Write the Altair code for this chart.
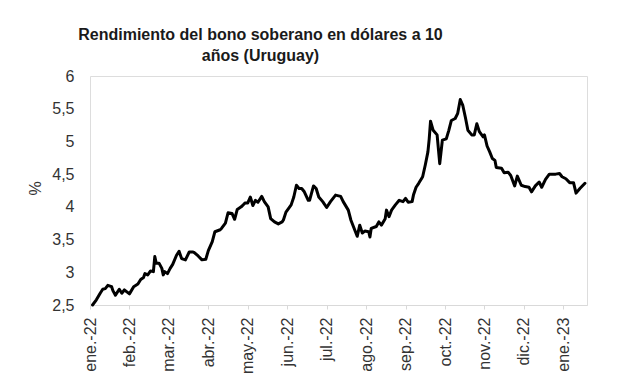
import json
import calendar
import altair as alt
import pandas as pd

title_lines = ["Rendimiento del bono soberano en dólares a 10", "años (Uruguay)"]
y_title = "%"
tick_labels = ["ene.-22", "feb.-22", "mar.-22", "abr.-22", "may.-22", "jun.-22",
               "jul.-22", "ago.-22", "sep.-22", "oct.-22", "nov.-22", "dic.-22", "ene.-23"]
y_ticks = [2.5, 3, 3.5, 4, 4.5, 5, 5.5, 6]

dates = [
    "2022-01-03", "2022-01-06", "2022-01-09", "2022-01-11", "2022-01-13", "2022-01-15",
    "2022-01-18", "2022-01-19", "2022-01-21", "2022-01-24", "2022-01-26", "2022-01-28",
    "2022-01-30", "2022-02-01", "2022-02-04", "2022-02-07", "2022-02-09", "2022-02-11",
    "2022-02-12", "2022-02-14", "2022-02-16", "2022-02-18", "2022-02-19", "2022-02-20",
    "2022-02-22", "2022-02-24", "2022-02-25", "2022-02-26", "2022-02-28", "2022-03-02",
    "2022-03-04", "2022-03-07", "2022-03-09", "2022-03-11", "2022-03-14", "2022-03-17",
    "2022-03-20", "2022-03-21", "2022-03-24", "2022-03-27", "2022-03-30", "2022-04-01",
    "2022-04-04", "2022-04-06", "2022-04-10", "2022-04-11", "2022-04-14", "2022-04-16",
    "2022-04-19", "2022-04-21", "2022-04-23", "2022-04-26", "2022-04-28", "2022-04-29",
    "2022-05-01", "2022-05-03", "2022-05-05", "2022-05-07", "2022-05-09", "2022-05-12",
    "2022-05-14", "2022-05-17", "2022-05-19", "2022-05-22", "2022-05-25", "2022-05-28",
    "2022-05-29", "2022-05-31", "2022-06-04", "2022-06-06", "2022-06-08", "2022-06-10",
    "2022-06-12", "2022-06-14", "2022-06-17", "2022-06-18", "2022-06-21", "2022-06-23",
    "2022-06-25", "2022-06-28", "2022-07-01", "2022-07-04", "2022-07-08", "2022-07-12",
    "2022-07-14", "2022-07-18", "2022-07-20", "2022-07-23", "2022-07-25", "2022-07-27",
    "2022-07-29", "2022-07-31", "2022-08-03", "2022-08-04", "2022-08-05", "2022-08-09",
    "2022-08-11", "2022-08-13", "2022-08-16", "2022-08-17", "2022-08-19", "2022-08-21",
    "2022-08-24", "2022-08-27", "2022-08-30", "2022-09-01", "2022-09-03", "2022-09-06",
    "2022-09-07", "2022-09-09", "2022-09-11", "2022-09-14", "2022-09-16", "2022-09-18",
    "2022-09-19", "2022-09-20", "2022-09-22", "2022-09-25", "2022-09-27", "2022-09-29",
    "2022-10-02", "2022-10-04", "2022-10-06", "2022-10-09", "2022-10-11", "2022-10-13",
    "2022-10-15", "2022-10-17", "2022-10-19", "2022-10-22", "2022-10-24", "2022-10-26",
    "2022-10-28", "2022-10-31", "2022-11-01", "2022-11-03", "2022-11-05", "2022-11-07",
    "2022-11-09", "2022-11-10", "2022-11-14", "2022-11-16", "2022-11-19", "2022-11-21",
    "2022-11-24", "2022-11-26", "2022-11-29", "2022-12-02", "2022-12-05", "2022-12-07",
    "2022-12-10", "2022-12-13", "2022-12-15", "2022-12-18", "2022-12-21", "2022-12-26",
    "2022-12-29", "2022-12-31", "2023-01-03", "2023-01-06", "2023-01-09", "2023-01-11",
    "2023-01-14", "2023-01-18",
]

values = [
    2.50, 2.58, 2.68, 2.74, 2.75, 2.80,
    2.78, 2.72, 2.65, 2.74, 2.68, 2.73,
    2.70, 2.67, 2.78, 2.82, 2.89, 2.92,
    2.98, 2.96, 3.02, 3.01, 3.24, 3.14,
    3.14, 3.06, 2.96, 3.01, 2.98, 3.06,
    3.12, 3.26, 3.32, 3.21, 3.19, 3.31,
    3.31, 3.30, 3.25, 3.19, 3.20, 3.33,
    3.47, 3.62, 3.65, 3.67, 3.75, 3.91,
    3.90, 3.81, 3.96, 4.00, 4.04, 4.06,
    4.06, 4.15, 4.02, 4.10, 4.07, 4.16,
    4.08, 4.00, 3.82, 3.77, 3.74, 3.77,
    3.80, 3.92, 4.03, 4.15, 4.33, 4.28,
    4.28, 4.23, 4.10, 4.10, 4.32, 4.28,
    4.15, 4.08, 3.99, 4.08, 4.18, 4.16,
    4.08, 3.95, 3.80, 3.65, 3.55, 3.72,
    3.60, 3.63, 3.62, 3.54, 3.67, 3.70,
    3.77, 3.72, 3.82, 3.95, 3.85, 3.95,
    4.03, 4.10, 4.08, 4.13, 4.07, 4.08,
    4.18, 4.30, 4.36, 4.46, 4.64, 4.84,
    5.04, 5.31, 5.17, 5.10, 4.66, 5.02,
    5.04, 5.17, 5.32, 5.35, 5.43, 5.64,
    5.55, 5.37, 5.17, 5.10, 5.10, 5.27,
    5.15, 5.07, 5.10, 4.93, 4.84, 4.74,
    4.71, 4.60, 4.59, 4.52, 4.53, 4.48,
    4.32, 4.47, 4.33, 4.31, 4.30, 4.23,
    4.32, 4.38, 4.30, 4.42, 4.50, 4.50,
    4.51, 4.46, 4.43, 4.37, 4.37, 4.21,
    4.28, 4.36,
]


def month_index(d):
    ts = pd.Timestamp(d)
    dim = calendar.monthrange(ts.year, ts.month)[1]
    return (ts.year - 2022) * 12 + ts.month - 1 + (ts.day - 1) / dim


df = pd.DataFrame({"fecha": dates, "valor": values})
df["m"] = df["fecha"].map(month_index)

FONT = "Liberation Sans"
label_expr_x = json.dumps(tick_labels) + "[datum.value]"

chart = (
    alt.Chart(df)
    .mark_line(color="#000000", strokeWidth=3, strokeJoin="round", strokeCap="round")
    .encode(
        x=alt.X(
            "m:Q",
            scale=alt.Scale(domain=[0, 12.6], nice=False, zero=False),
            axis=alt.Axis(
                values=list(range(len(tick_labels))),
                labelExpr=label_expr_x,
                labelAngle=-90,
                labelFont=FONT,
                labelFontSize=16,
                labelColor="#333333",
                labelPadding=8,
                tickSize=4,
                tickColor="#d9d9d9",
                domainColor="#d9d9d9",
                domainWidth=1,
                grid=False,
                title=None,
                labelOverlap=False,
            ),
        ),
        y=alt.Y(
            "valor:Q",
            scale=alt.Scale(domain=[2.5, 6], nice=False, zero=False),
            axis=alt.Axis(
                values=y_ticks,
                labelExpr="replace(format(datum.value, '.1~f'), '.', ',')",
                labelFont=FONT,
                labelFontSize=16,
                labelColor="#333333",
                labelPadding=16,
                ticks=False,
                domain=False,
                grid=False,
                title=y_title,
                titleFont=FONT,
                titleFontSize=16,
                titleFontWeight="normal",
                titleColor="#333333",
                titleAngle=-90,
                titleAlign="center",
                titleBaseline="middle",
                titleX=-55,
                titleY=112,
            ),
        ),
    )
    .properties(
        width=497,
        height=229,
        autosize=alt.AutoSizeParams(type="none"),
        padding={"left": 82, "top": 68, "right": 22, "bottom": 78},
        title=alt.TitleParams(
            text=title_lines,
            font=FONT,
            fontSize=16,
            fontWeight="bold",
            color="#1a1a1a",
            anchor="middle",
            align="center",
            baseline="bottom",
            lineHeight=21,
            offset=10,
            dx=-78,
            dy=22,
        ),
    )
    .configure_view(stroke=None)
    .configure(background="white")
)

chart.save("out.html", embed_options={"renderer": "svg", "actions": False})
